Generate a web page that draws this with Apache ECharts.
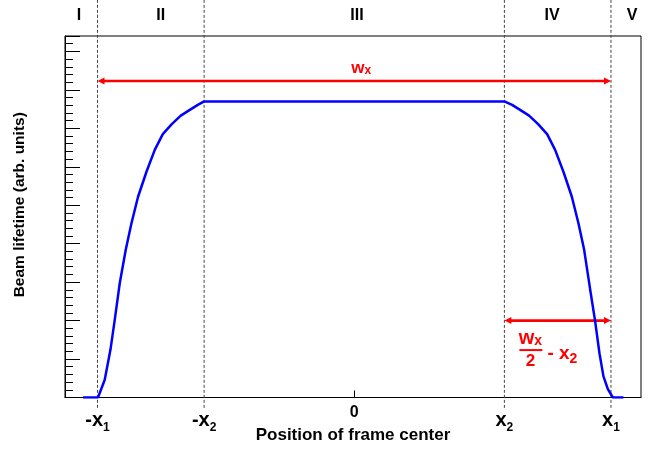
<!DOCTYPE html>
<html>
<head>
<meta charset="utf-8">
<script src="https://cdn.jsdelivr.net/npm/echarts@6/dist/echarts.min.js"></script>
<style>
html, body { margin: 0; padding: 0; background: #fff; }
#chart { width: 660px; height: 449px; }
</style>
</head>
<body>
<div id="chart"></div>
<script>
// Characteristic positions of the frame centre (arbitrary units)
const X1 = 256.5;
const X2 = 150;

// Bottom axis tick positions and their labels
const xTickValues = [-X1, -X2, 0, X2, X1];
const xTickLabels = ['{v|-x}{s|1}', '{v|-x}{s|2}', '{z|0}', '{v|x}{s|2}', '{v|x}{s|1}'];

// Beam lifetime profile versus frame-centre position
const profileX = [-271, -256, -249.3, -243.6, -239.3, -234.3, -228.3, -222.6, -216, -207.6,
  -199.3, -191.3, -182.3, -173.3, -164.3, -156.3, -150,
  150, 157.7, 165.7, 174.7, 183.7, 192.7, 200.7,
  209, 217.4, 224, 229.7, 235.7, 240.7, 245, 249, 253.4, 258.4, 269];
const profileY = [0, 0, 0.46, 1.24, 2.02, 2.97, 3.84, 4.53, 5.22, 5.87,
  6.44, 6.85, 7.11, 7.33, 7.48, 7.61, 7.70,
  7.70, 7.61, 7.48, 7.33, 7.11, 6.85, 6.44,
  5.87, 5.22, 4.53, 3.84, 2.81, 1.98, 1.15, 0.55, 0.22, 0, 0];

// Region names and where they sit along the axis
const regionNames = ['I', 'II', 'III', 'IV', 'V'];
const regionCenters = [-275, -193.3, 2.7, 197.7, 277.7];

// Region boundaries (dashed guides)
const boundaryXs = [-X1, -X2, X2, X1];

// Vertical levels (axis units) of the guides, arrows and region names
const guideTop = 10.34;
const guideBottom = -0.3;
const regionLabelY = 9.92;
const fullWidthArrowY = 8.23;
const halfWidthArrowY = 2.0;

const FONT = '"Liberation Sans", Arial, Helvetica, sans-serif';
const RED = '#ff0000';

function addArrow(kids, p, q) {
  const L = 7, H = 3.5;
  kids.push({ type: 'line', shape: { x1: p[0] + L - 1, y1: p[1], x2: q[0] - L + 1, y2: q[1] },
    style: { stroke: RED, lineWidth: 2.6 } });
  kids.push({ type: 'polygon', shape: { points: [[p[0], p[1]], [p[0] + L, p[1] - H], [p[0] + L, p[1] + H]] },
    style: { fill: RED } });
  kids.push({ type: 'polygon', shape: { points: [[q[0], q[1]], [q[0] - L, q[1] - H], [q[0] - L, q[1] + H]] },
    style: { fill: RED } });
}

function renderAnnotations(params, api) {
  const kids = [];
  boundaryXs.forEach(function (v) {
    const a = api.coord([v, guideTop]);
    const b = api.coord([v, guideBottom]);
    kids.push({ type: 'line', shape: { x1: a[0], y1: a[1], x2: b[0], y2: b[1] },
      style: { stroke: '#444', lineWidth: 1, lineDash: [3, 2] } });
  });
  regionNames.forEach(function (n, i) {
    const p = api.coord([regionCenters[i], regionLabelY]);
    kids.push({ type: 'text', x: p[0], y: p[1],
      style: { text: n, fontFamily: FONT, fontWeight: 'bold', fontSize: 16, fill: '#000',
        align: 'center', verticalAlign: 'middle' } });
  });

  // full width w_x
  const a1 = api.coord([-X1, fullWidthArrowY]);
  const b1 = api.coord([X1, fullWidthArrowY]);
  addArrow(kids, a1, b1);
  kids.push({ type: 'text', x: (a1[0] + b1[0]) / 2 + 7, y: a1[1] - 4,
    style: { text: '{m|w}{s|x}', align: 'center', verticalAlign: 'bottom',
      rich: {
        m: { fontFamily: FONT, fontWeight: 'bold', fontSize: 17, fill: RED, verticalAlign: 'bottom' },
        s: { fontFamily: FONT, fontWeight: 'bold', fontSize: 12, fill: RED, verticalAlign: 'bottom', padding: [9, 0, 0, 0] }
      } } });

  // half width minus x2
  const a2 = api.coord([X2, halfWidthArrowY]);
  const b2 = api.coord([X1, halfWidthArrowY]);
  addArrow(kids, a2, b2);
  const ox = a2[0], oy = a2[1];
  kids.push({ type: 'text', x: ox + 26, y: oy + 28,
    style: { text: '{m|w}{s|x}', align: 'center', verticalAlign: 'bottom',
      rich: {
        m: { fontFamily: FONT, fontWeight: 'bold', fontSize: 20, fill: RED, verticalAlign: 'bottom' },
        s: { fontFamily: FONT, fontWeight: 'bold', fontSize: 14, fill: RED, verticalAlign: 'bottom', padding: [10, 0, 0, 0] }
      } } });
  kids.push({ type: 'line', shape: { x1: ox + 15, y1: oy + 29.5, x2: ox + 38, y2: oy + 29.5 },
    style: { stroke: RED, lineWidth: 2 } });
  kids.push({ type: 'text', x: ox + 26, y: oy + 41,
    style: { text: '2', fontFamily: FONT, fontWeight: 'bold', fontSize: 17, fill: RED,
      align: 'center', verticalAlign: 'middle' } });
  kids.push({ type: 'text', x: ox + 43, y: oy + 33,
    style: { text: '{m|- x}{s|2}', align: 'left', verticalAlign: 'middle',
      rich: {
        m: { fontFamily: FONT, fontWeight: 'bold', fontSize: 19, fill: RED },
        s: { fontFamily: FONT, fontWeight: 'bold', fontSize: 14, fill: RED, verticalAlign: 'bottom', padding: [12, 0, 0, 0] }
      } } });

  return { type: 'group', children: kids };
}

const chart = echarts.init(document.getElementById('chart'), null, { renderer: 'canvas' });

const profile = profileX.map(function (x, i) { return [x, profileY[i]]; });

chart.setOption({
  animation: false,
  backgroundColor: '#fff',
  grid: { left: 65, right: 19, top: 36, bottom: 51.5, show: true, borderColor: '#000', borderWidth: 1,
    backgroundColor: 'transparent', containLabel: false, outerBoundsMode: 'none' },
  xAxis: {
    type: 'value', min: -289, max: 286.5,
    name: 'Position of frame center', nameLocation: 'middle', nameGap: 29, nameMoveOverlap: false,
    nameTextStyle: { fontFamily: FONT, fontWeight: 'bold', fontSize: 17, color: '#000' },
    axisLine: { show: true, onZero: false, lineStyle: { color: '#000', width: 1 } },
    splitLine: { show: false },
    axisTick: { show: true, inside: true, length: 7, customValues: [0], lineStyle: { color: '#000' } },
    axisLabel: {
      customValues: xTickValues, margin: 7.5,
      formatter: function (v) {
        let best = 0;
        xTickValues.forEach(function (t, i) { if (Math.abs(t - v) < Math.abs(xTickValues[best] - v)) best = i; });
        return xTickLabels[best];
      },
      rich: {
        v: { fontFamily: FONT, fontWeight: 'bold', fontSize: 20, color: '#000', padding: [2, 0, 0, 0] },
        s: { fontFamily: FONT, fontWeight: 'bold', fontSize: 12, color: '#000', verticalAlign: 'bottom', padding: [17, 0, 0, 0] },
        z: { fontFamily: FONT, fontWeight: 'bold', fontSize: 16, color: '#000' }
      }
    }
  },
  yAxis: [
    {
      type: 'value', min: 0, max: 9.4, interval: 1,
      name: 'Beam lifetime (arb. units)', nameLocation: 'middle', nameGap: 37, nameMoveOverlap: false,
      nameTextStyle: { fontFamily: FONT, fontWeight: 'bold', fontSize: 15.5, color: '#000', padding: [0, 0, 0, 24] },
      axisLine: { show: true, onZero: false, lineStyle: { color: '#000', width: 1 } },
      axisTick: { show: true, inside: true, length: 15, lineStyle: { color: '#000', width: 1 } },
      axisLabel: { show: false },
      splitLine: { show: false }
    },
    {
      type: 'value', min: 0, max: 9.4, interval: 0.2, position: 'left',
      axisLine: { show: false, onZero: false },
      axisTick: { show: true, inside: true, length: 8, lineStyle: { color: '#000', width: 1 } },
      axisLabel: { show: false },
      splitLine: { show: false }
    }
  ],
  series: [
    {
      type: 'custom', name: 'guides', coordinateSystem: 'cartesian2d', clip: false, silent: true, z: 1,
      data: [[0, 0]], renderItem: renderAnnotations
    },
    {
      type: 'line', name: 'lifetime', data: profile, showSymbol: false, symbol: 'none', smooth: false,
      z: 3, lineStyle: { color: '#0000ff', width: 2.5 }
    }
  ]
});
</script>
</body>
</html>
